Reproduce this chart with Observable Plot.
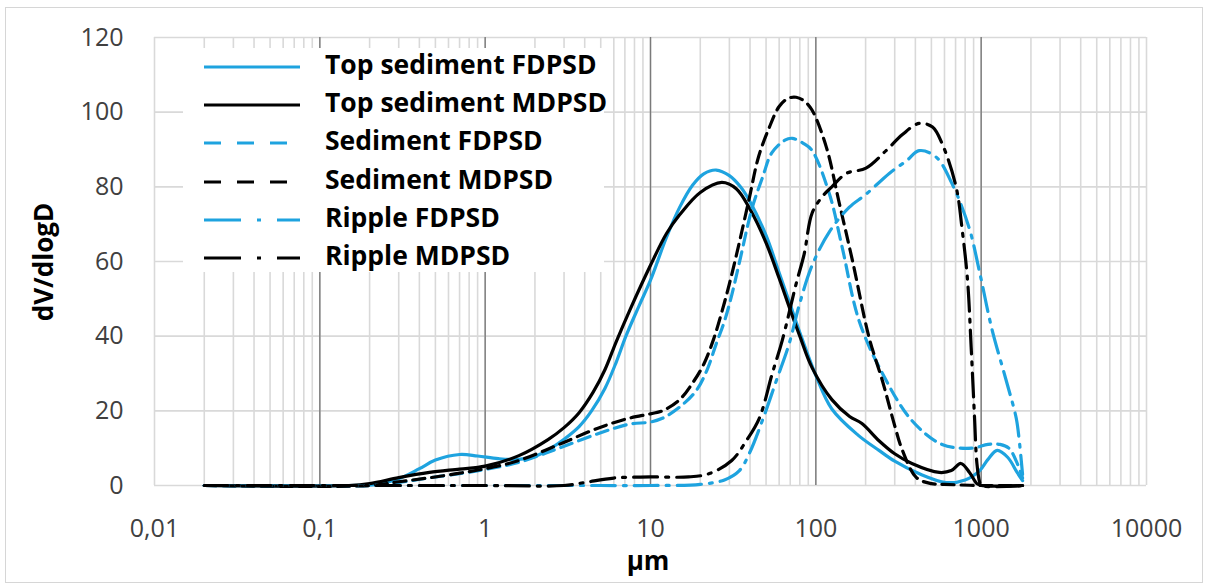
<!DOCTYPE html>
<html>
<head>
<meta charset="utf-8">
<script src="https://cdn.jsdelivr.net/npm/d3@7"></script>
<script src="https://cdn.jsdelivr.net/npm/@observablehq/plot@0.6"></script>
<style>
  html, body { margin: 0; padding: 0; background: #fff; }
  #wrap { position: relative; width: 1208px; height: 587px; }
  #border { position: absolute; left: 5px; top: 7px; width: 1198px; height: 576px; border: 1.5px solid #d6d6d6; box-sizing: border-box; pointer-events: none; }
</style>
</head>
<body>
<div id="wrap"><div id="border"></div></div>
<script>
// ---- data (µm, dV/dlogD) ----
const seriesNames = ["Top sediment FDPSD", "Top sediment MDPSD", "Sediment FDPSD", "Sediment MDPSD", "Ripple FDPSD", "Ripple MDPSD"];

const topSedimentFD = [[0.02,0],[0.15,0],[0.22,0.3],[0.3,1.8],[0.4,4.5],[0.5,6.8],[0.7,8.3],[0.9,7.9],[1.2,7.2],[1.6,7],[2,7.8],[2.5,10],[3,12.4],[3.7,15.8],[4.4,20],[5.3,26],[6.2,33],[7.1,40],[8.5,48],[10,55],[12.5,66.5],[15,74.5],[18,80.5],[21,83.5],[25,84.5],[30,83],[35,80],[40,76],[50,67],[60,57],[70,48.5],[80,41],[100,29.5],[125,20.5],[180,13.5],[241,9.4],[300,6.5],[420,3.2],[613,0.8],[800,1.5],[980,4],[1100,7],[1250,9.4],[1450,7.5],[1650,3.5],[1780,1.3]];

const topSedimentMD = [[0.02,0],[0.15,0],[0.2,0.5],[0.3,2.1],[0.46,3.5],[0.7,4.4],[1,5.2],[1.6,8],[2.4,12.3],[3,15.5],[3.7,19.5],[4.5,25],[5.3,31],[6.2,38.5],[7.5,47],[10,59],[12.5,67.5],[15,72.5],[20,78.5],[27,81.2],[33,79.5],[40,74],[50,65],[60,55.5],[70,47],[80,40],[95,31.5],[125,23],[160,18.5],[190,16.6],[241,12],[300,8.5],[381,5.9],[558,3.5],[660,4],[754,5.9],[850,3.5],[942,0.5],[1000,0],[1780,0]];

const sedimentFD = [[0.02,0],[0.2,0],[0.3,0.8],[0.45,2],[0.7,3.2],[1,4.3],[1.6,6.2],[2.8,10],[4.9,14],[7.4,16.4],[10,17],[11.8,18],[15,21],[18.9,25.4],[22,31],[25,38],[28,44],[31,51],[35,61],[41,74],[48,83],[54,89],[65,92.5],[72,93],[85,91.5],[95,89.7],[121,78],[144,64],[183,44],[253,30],[381,17.4],[580,11],[880,10],[1100,11],[1300,11],[1470,10],[1650,6],[1780,2]];

const sedimentMD = [[0.02,0],[0.2,0],[0.3,1],[0.45,2],[0.7,3.3],[1,4.5],[1.6,6.7],[2.8,11],[4.9,15.5],[7.4,18],[10,19.2],[11.8,20],[15,23],[18,27.5],[21,32.5],[24,39],[27,46.5],[30,54],[34,64],[39.6,77],[45,88],[52.4,96],[60,101.5],[68,103.7],[76,104],[85,103],[95,100.5],[116,90.5],[138,76],[167,60],[210,39.6],[253,28],[300,16],[334,9.4],[406,2.1],[500,0.5],[600,0.3],[1000,0],[1780,0]];

const rippleFD = [[0.02,0],[1,0],[5,0],[10,0],[20,0.3],[28,1.5],[34.5,4],[39.6,8.6],[47.5,17.4],[57.6,28],[69,38],[79,48],[95,59],[121,68],[159,74.5],[201,78],[278,83.6],[354,87],[422,89.7],[533,88],[664,81],[846,69],[980,57],[1160,42],[1420,28],[1630,18],[1700,12],[1780,3]];

const rippleMD = [[0.02,0],[1,0],[3,0],[4,0.8],[6,2],[10,2.3],[17,2.3],[22.7,3.2],[31,6.7],[38,12],[45.5,18],[54.5,30],[62.6,38.8],[76,54],[85,62],[95,73],[110,77.5],[125,80],[153,83.6],[201,85],[266,89.7],[334,94],[422,97],[508,96],[580,91.6],[705,80],[770,68],[827,55],[870,37],[910,19],[942,6],[980,0.8],[1000,0],[1780,0]];

const xTickValues = [0.01, 0.1, 1, 10, 100, 1000, 10000];
const yTickValues = [0, 20, 40, 60, 80, 100, 120];
const majorDecades = [0.1, 1, 10, 100, 1000];

// ---- styles ----
const BLUE = "#1ea3df";
const BLACK = "#000000";
const styles = [
  {color: BLUE, dash: null},
  {color: BLACK, dash: null},
  {color: BLUE, dash: "12,7"},
  {color: BLACK, dash: "12,7"},
  {color: BLUE, dash: "24,8,3,8"},
  {color: BLACK, dash: "24,8,3,8"}
];
const allSeries = [topSedimentFD, topSedimentMD, sedimentFD, sedimentMD, rippleFD, rippleMD];

const minorTicks = d3.scaleLog().domain([0.01, 10000]).ticks();

const lineMarks = allSeries.map((s, i) => Plot.line(s, {
  x: d => d[0], y: d => d[1],
  stroke: styles[i].color, strokeWidth: 3.2,
  strokeDasharray: styles[i].dash ?? undefined,
  curve: "catmull-rom"
}));

const fmt = d => String(d).replace(".", ",");

const chart = Plot.plot({
  width: 1208,
  height: 587,
  marginLeft: 154,
  marginRight: 62,
  marginTop: 37,
  marginBottom: 102,
  style: {fontFamily: "'Open Sans', sans-serif", fontSize: "25px", color: "#404040", background: "transparent"},
  x: {type: "log", domain: [0.01, 10000], ticks: xTickValues, tickFormat: fmt, tickSize: 0, tickPadding: 34, label: null},
  y: {domain: [0, 120], ticks: yTickValues, tickSize: 0, tickPadding: 31, label: null},
  marks: [
    Plot.ruleX(minorTicks, {stroke: "#d9d9d9", strokeWidth: 1.6}),
    Plot.ruleY(yTickValues, {stroke: "#d9d9d9", strokeWidth: 1.6}),
    Plot.ruleX(majorDecades, {stroke: "#7a7a7a", strokeWidth: 1.4}),
    ...lineMarks
  ]
});

document.getElementById("wrap").appendChild(chart);

// ---- titles and legend (overlay in the same svg) ----
const svg = d3.select(chart);
svg.append("text")
  .attr("transform", "translate(46,262) rotate(-90)")
  .attr("text-anchor", "middle").attr("dominant-baseline", "middle")
  .style("font-family", "'Open Sans', sans-serif").style("font-weight", "bold").style("font-size", "26px")
  .attr("fill", "#000").text("dV/dlogD");
svg.append("text")
  .attr("x", 648).attr("y", 563)
  .attr("text-anchor", "middle").attr("dominant-baseline", "middle")
  .style("font-family", "'Open Sans', sans-serif").style("font-weight", "bold").style("font-size", "26px")
  .attr("fill", "#000").text("µm");

const lg = svg.append("g");
lg.append("rect").attr("x", 183).attr("y", 48).attr("width", 421).attr("height", 224).attr("fill", "#fff");
const rowsY = [67, 105, 143, 182, 220, 258];
seriesNames.forEach((name, i) => {
  lg.append("line").attr("x1", 204).attr("x2", 300).attr("y1", rowsY[i]).attr("y2", rowsY[i])
    .attr("stroke", styles[i].color).attr("stroke-width", 3.2)
    .attr("stroke-dasharray", i >= 4 ? "37,16,4,16" : (styles[i].dash ? "17,16" : null));
  lg.append("text").attr("x", 325).attr("y", rowsY[i]).attr("dominant-baseline", "middle")
    .attr("text-anchor", "start")
    .style("font-family", "'Open Sans', sans-serif").style("font-weight", "bold").style("font-size", "26.5px")
    .attr("fill", "#000").text(name);
});
</script>
</body>
</html>
